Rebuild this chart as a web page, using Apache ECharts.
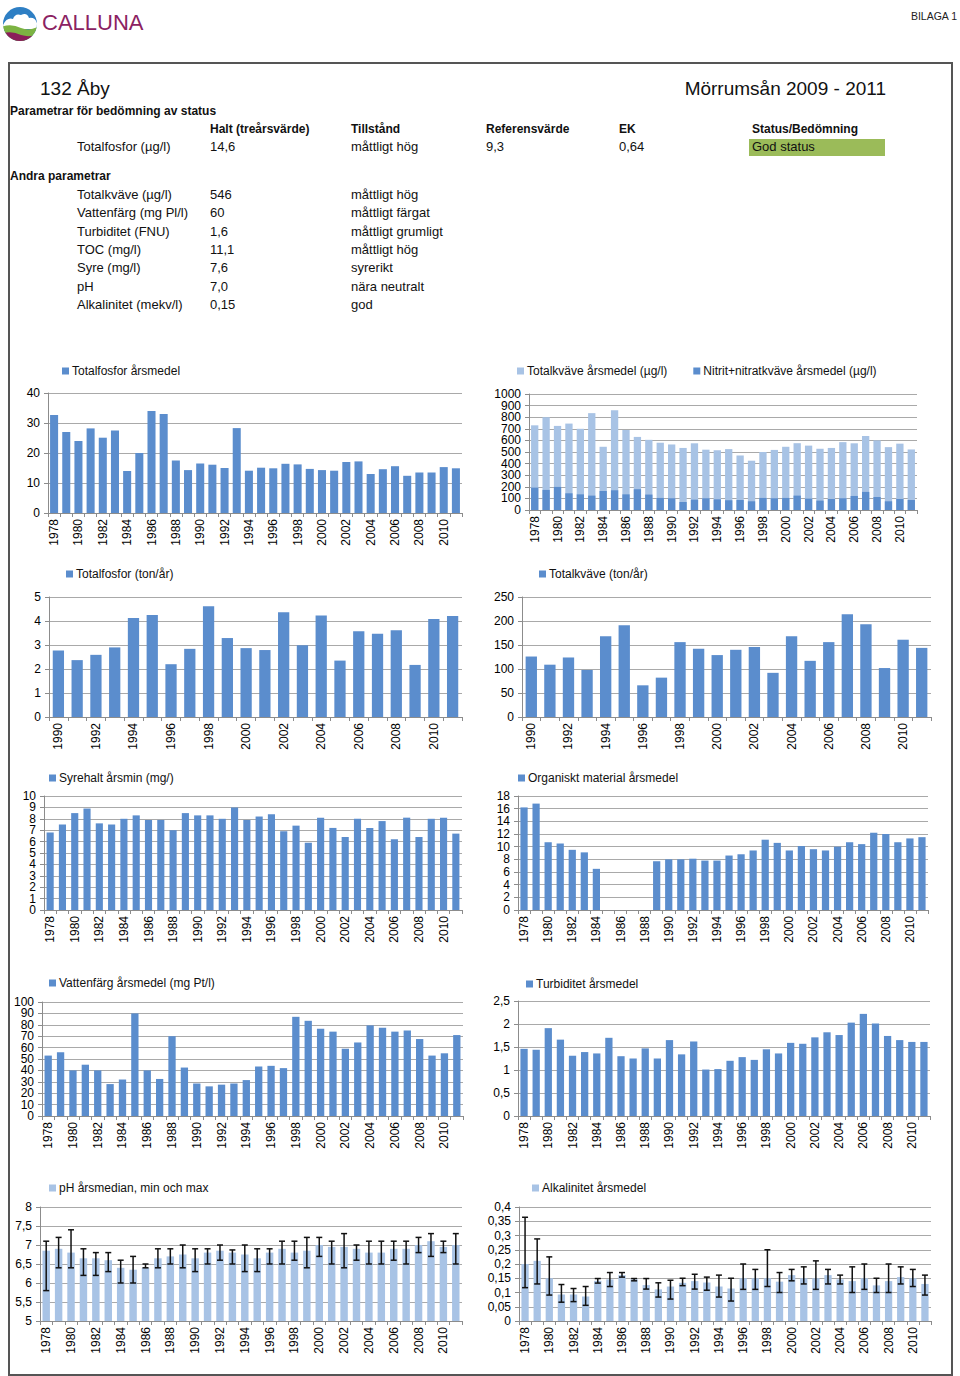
<!DOCTYPE html>
<html><head><meta charset="utf-8">
<script src="https://cdn.jsdelivr.net/npm/echarts@6/dist/echarts.min.js"></script>
<style>
body{margin:0;background:#fff;width:960px;height:1376px;position:relative;font-family:'Liberation Sans',Arial,sans-serif;color:#000;overflow:hidden}
.t{position:absolute;white-space:nowrap;font-size:13px;line-height:16px;color:#111}
.b{font-weight:bold;font-size:12px}
#frame{position:absolute;left:8px;top:62px;width:941px;height:1310px;border:2px solid #555}
#chart{position:absolute;left:0;top:0;width:960px;height:1376px}
</style></head><body>
<svg width="40" height="40" style="position:absolute;left:1px;top:3px" viewBox="0 0 40 40">
<defs><clipPath id="c"><circle cx="19" cy="21" r="17"/></clipPath></defs>
<g clip-path="url(#c)">
<rect x="0" y="0" width="40" height="40" fill="#2e7fc4"/>
<path d="M2 22 Q6 14 12 16 Q14 10 20 12 Q26 9 28 15 Q34 14 36 20 L36 26 L2 26Z" fill="#fff"/>
<path d="M0 24 Q10 20 20 25 Q30 29 40 22 L40 40 L0 40Z" fill="#7cb342"/>
<path d="M0 31 Q10 27 20 32 Q30 35 40 30 L40 40 L0 40Z" fill="#8b1d5a"/>
</g></svg>
<div class="t" style="left:42px;top:9px;font-size:22px;line-height:28px;color:#8b2262">CALLUNA</div>
<div class="t" style="right:3px;top:8px;font-size:10.5px;color:#222">BILAGA 1</div>
<div id="frame"></div>
<div id="hdr"></div>
<div id="chart"></div>
<script>
// ---------- table data ----------
const stationTitle = '132 Åby';
const areaTitle = 'Mörrumsån 2009 - 2011';
const statusHeading = 'Parametrar för bedömning av status';
const statusColumns = ['Halt (treårsvärde)', 'Tillstånd', 'Referensvärde', 'EK', 'Status/Bedömning'];
const statusRow = ['Totalfosfor (µg/l)', '14,6', 'måttligt hög', '9,3', '0,64', 'God status'];
const otherHeading = 'Andra parametrar';
const otherNames = ['Totalkväve (µg/l)', 'Vattenfärg (mg Pl/l)', 'Turbiditet (FNU)', 'TOC (mg/l)', 'Syre (mg/l)', 'pH', 'Alkalinitet (mekv/l)'];
const otherValues = ['546', '60', '1,6', '11,1', '7,6', '7,0', '0,15'];
const otherStates = ['måttligt hög', 'måttligt färgat', 'måttligt grumligt', 'måttligt hög', 'syrerikt', 'nära neutralt', 'god'];

// ---------- chart data ----------
const years78 = ['1978','1979','1980','1981','1982','1983','1984','1985','1986','1987','1988','1989','1990','1991','1992','1993','1994','1995','1996','1997','1998','1999','2000','2001','2002','2003','2004','2005','2006','2007','2008','2009','2010','2011'];
const years90 = ['1990','1991','1992','1993','1994','1995','1996','1997','1998','1999','2000','2001','2002','2003','2004','2005','2006','2007','2008','2009','2010','2011'];

const totPMean = [32.7,27.0,24.0,28.2,25.1,27.5,14.0,20.0,34.0,33.0,17.5,14.3,16.5,16.1,15.0,28.3,14.1,15.1,14.9,16.4,16.2,14.7,14.3,14.1,17.0,17.2,13.0,14.6,15.6,12.4,13.5,13.5,15.3,14.9];
const totNMean = [730,800,725,745,700,835,545,860,690,630,605,580,565,535,575,520,515,525,470,425,500,518,545,576,555,528,535,585,575,638,600,542,572,522];
const nitratMean = [193,173,199,144,135,124,164,170,135,179,133,104,101,69,89,101,92,84,86,75,104,101,104,124,98,81,95,101,121,156,112,75,95,86];
const totPLoad = [2.77,2.37,2.59,2.90,4.12,4.25,2.20,2.84,4.61,3.29,2.87,2.79,4.36,2.99,4.23,2.35,3.57,3.47,3.61,2.17,4.08,4.21];
const totNLoad = [126,109,124,98,168,191,66,82,156,142,129,140,146,92,168,117,156,214,193,102,161,144];
const oxygenMin = [6.8,7.5,8.5,8.9,7.6,7.5,8.0,8.3,7.9,7.9,7.0,8.5,8.3,8.3,8.0,9.0,7.9,8.2,8.4,6.9,7.4,5.9,8.1,7.2,6.4,8.0,7.2,7.8,6.2,8.1,6.4,8.0,8.1,6.7];
const organicMean = [16.2,16.8,10.7,10.5,9.5,9.1,6.5,null,null,null,null,7.7,8.0,8.0,8.1,7.8,7.8,8.6,8.8,9.4,11.1,10.6,9.4,10.1,9.6,9.4,10.0,10.7,10.4,12.2,12.0,10.7,11.3,11.5];
const colourMean = [53,56,40,45,40,28,32,90,40,32.5,70,42.5,28.5,26,27.5,28.5,31.5,43.5,44,42,87,83.5,76.5,74,59,64.5,79.5,77.5,74,75,67.5,53,55,71];
const turbMean = [1.46,1.44,1.91,1.66,1.31,1.39,1.36,1.70,1.30,1.25,1.47,1.25,1.65,1.34,1.62,1.01,1.02,1.20,1.28,1.22,1.45,1.36,1.59,1.57,1.71,1.82,1.76,2.03,2.22,2.01,1.74,1.65,1.61,1.61];
const phMedian = [6.85,6.9,6.8,6.65,6.65,6.6,6.4,6.35,6.4,6.65,6.7,6.75,6.65,6.8,6.85,6.8,6.75,6.65,6.8,6.9,6.8,6.85,7.0,6.95,6.95,6.9,6.8,6.8,6.9,6.9,7.0,7.1,6.95,7.0];
const phMin = [5.8,6.4,6.4,6.2,6.2,6.3,6.0,6.0,6.4,6.4,6.5,6.4,6.3,6.5,6.6,6.5,6.3,6.3,6.5,6.5,6.6,6.4,6.7,6.5,6.4,6.6,6.5,6.5,6.6,6.5,6.8,6.7,6.8,6.5];
const phMax = [7.1,7.2,7.4,6.9,6.8,6.8,6.6,6.7,6.5,6.9,6.9,7.0,6.9,6.9,7.0,6.87,7.0,6.9,6.9,7.1,7.1,7.2,7.2,7.1,7.3,7.0,7.1,7.1,7.1,7.1,7.2,7.3,7.1,7.3];
const alkMean = [0.200,0.211,0.150,0.093,0.093,0.086,0.141,0.146,0.161,0.146,0.126,0.111,0.121,0.134,0.140,0.135,0.121,0.114,0.150,0.150,0.150,0.138,0.161,0.150,0.150,0.161,0.146,0.140,0.150,0.125,0.140,0.154,0.150,0.130];
const alkMin = [0.117,0.130,0.091,0.066,0.068,0.055,0.133,0.121,0.154,0.141,0.112,0.084,0.077,0.124,0.112,0.108,0.084,0.070,0.111,0.111,0.121,0.100,0.141,0.130,0.111,0.130,0.130,0.100,0.111,0.100,0.100,0.130,0.121,0.091];
const alkMax = [0.364,0.288,0.225,0.128,0.114,0.121,0.149,0.170,0.170,0.149,0.149,0.134,0.143,0.150,0.164,0.154,0.161,0.150,0.200,0.181,0.250,0.170,0.181,0.190,0.211,0.181,0.161,0.190,0.200,0.150,0.200,0.190,0.181,0.161];

// ---------- header (HTML text) ----------
(function(){
  const h = document.getElementById('hdr');
  function put(txt, x, yc, cls, extra){
    const d = document.createElement('div');
    d.className = 't' + (cls ? ' ' + cls : '');
    d.textContent = txt;
    d.style.left = x + 'px';
    d.style.top = (yc - 8) + 'px';
    if (extra) Object.assign(d.style, extra);
    h.appendChild(d);
    return d;
  }
  put(stationTitle, 40, 88, '', {fontSize:'19px', lineHeight:'22px', top:'78px'});
  put(areaTitle, 0, 88, '', {fontSize:'19px', lineHeight:'22px', top:'78px', left:'auto', right:(960-886)+'px'});
  put(statusHeading, 10, 111, 'b');
  const colX = [210, 351, 486, 619, 752];
  statusColumns.forEach((c,i)=>put(c, colX[i], 129, 'b'));
  const g = document.createElement('div');
  Object.assign(g.style,{position:'absolute',left:'749px',top:'139px',width:'136px',height:'17px',background:'#9bbb59'});
  h.appendChild(g);
  put(statusRow[0], 77, 147);
  statusRow.slice(1).forEach((c,i)=>put(c, colX[i], 147));
  put(otherHeading, 10, 176, 'b');
  const rowY = [195, 213, 232, 250, 268, 287, 305];
  otherNames.forEach((n,i)=>{
    put(n, 77, rowY[i]);
    put(otherValues[i], 210, rowY[i]);
    put(otherStates[i], 351, rowY[i]);
  });
})();

// ---------- charts ----------
const BLUE = '#5b8dcd';
const LIGHT = '#a8c3e5';
const FONT = 'Liberation Sans, Arial, sans-serif';
const comma = v => String(+(+v).toFixed(2)).replace('.', ',');

const panels = [
  {grid:[48,393,414,120], legend:[62,370], cats:years78, y:[0,40,10], gap:'34%', series:[{name:'Totalfosfor årsmedel', data:totPMean, color:BLUE}]},
  {grid:[529,394,388,116], legend:[517,370], cats:years78, y:[0,1000,100], gap:'36%', overlap:true, series:[{name:'Totalkväve årsmedel (µg/l)', data:totNMean, color:LIGHT},{name:'Nitrit+nitratkväve årsmedel (µg/l)', data:nitratMean, color:BLUE}]},
  {grid:[49,597,413,120], legend:[66,573], cats:years90, y:[0,5,1], gap:'40%', series:[{name:'Totalfosfor (ton/år)', data:totPLoad, color:BLUE}]},
  {grid:[522,597,409,120], legend:[539,573], cats:years90, y:[0,250,50], gap:'39%', series:[{name:'Totalkväve (ton/år)', data:totNLoad, color:BLUE}]},
  {grid:[44,796,418,114], legend:[49,777], cats:years78, y:[0,10,1], gap:'42%', series:[{name:'Syrehalt årsmin (mg/)', data:oxygenMin, color:BLUE}]},
  {grid:[518,796,410,114], legend:[518,777], cats:years78, y:[0,18,2], gap:'40%', series:[{name:'Organiskt material årsmedel', data:organicMean, color:BLUE}]},
  {grid:[42,1002,421,114], legend:[49,982], cats:years78, y:[0,100,10], gap:'41%', series:[{name:'Vattenfärg årsmedel (mg Pt/l)', data:colourMean, color:BLUE}]},
  {grid:[518,1001,412,115], legend:[526,983], cats:years78, y:[0,2.5,0.5], gap:'40%', series:[{name:'Turbiditet årsmedel', data:turbMean, color:BLUE}]},
  {grid:[40,1207,422,114], legend:[49,1187], cats:years78, y:[5,8,0.5], gap:'40%', series:[{name:'pH årsmedian, min och max', data:phMedian, color:LIGHT}], err:[phMin, phMax]},
  {grid:[519,1207,412,114], legend:[532,1187], cats:years78, y:[0,0.4,0.05], gap:'40%', series:[{name:'Alkalinitet årsmedel', data:alkMean, color:LIGHT}], err:[alkMin, alkMax]}
];

const near = (a, b) => Math.abs(a - b) < 1e-6;
const grids = [], xAxes = [], yAxes = [], yAxesExtra = [], legends = [], series = [];
panels.forEach((p, i) => {
  const [mn, mx, step] = p.y;
  const isInner = v => near(v, mn + step) || near(v, mx - step);
  grids.push({left:p.grid[0], top:p.grid[1], width:p.grid[2], height:p.grid[3]});
  xAxes.push({type:'category', gridIndex:i, data:p.cats,
    axisLine:{show:true, lineStyle:{color:'#8c8c8c', width:1}},
    axisTick:{show:true, interval:0, length:4, lineStyle:{color:'#8c8c8c'}},
    axisLabel:{interval:1, rotate:90, margin:6, fontSize:12, color:'#000', fontFamily:FONT}
  });
  const labelBase = {fontSize:12, color:'#000', fontFamily:FONT, margin:8};
  // primary axis: all labels except the ones next to min / max
  yAxes.push({type:'value', gridIndex:i, min:mn, max:mx, interval:step, startValue:mn,
    axisLine:{show:true, lineStyle:{color:'#8c8c8c', width:1}},
    axisTick:{show:true, length:4, lineStyle:{color:'#8c8c8c'}},
    splitLine:{show:true, lineStyle:{color:'#a9a9a9', width:1}},
    axisLabel:Object.assign({}, labelBase, {showMinLabel:true, showMaxLabel:true,
      formatter: v => isInner(+v) ? '' : comma(v)})
  });
  // companion axis (same scale) carrying only the labels next to min / max
  yAxesExtra.push({type:'value', gridIndex:i, position:'left', min:mn, max:mx, interval:step,
    axisLine:{show:false}, axisTick:{show:false}, splitLine:{show:false},
    axisLabel:Object.assign({}, labelBase, {showMinLabel:false, showMaxLabel:false,
      formatter: v => isInner(+v) ? comma(v) : ''})
  });
  legends.push({left:p.legend[0], top:p.legend[1] - 5, padding:0, orient:'horizontal', itemWidth:7, itemHeight:7, itemGap:26,
    icon:'rect', data:p.series.map(s=>s.name), selectedMode:false,
    textStyle:{fontSize:12, color:'#111', fontFamily:FONT, padding:[0,0,0,-2]}});
  p.series.forEach(s => {
    series.push({type:'bar', name:s.name, xAxisIndex:i, yAxisIndex:i, data:s.data, clip:true,
      itemStyle:{color:s.color}, barCategoryGap:p.gap, barGap:p.overlap ? '-100%' : '20%', silent:true});
  });
  if (p.err) {
    const lo = p.err[0], hi = p.err[1];
    series.push({type:'custom', name:'err'+i, xAxisIndex:i, yAxisIndex:i, z:5, silent:true,
      data: lo.map((l, k) => [k, l, hi[k]]),
      encode:{x:0, y:[1,2]},
      renderItem: function(params, api){
        const xi = api.value(0);
        const a = api.coord([xi, api.value(1)]);
        const b = api.coord([xi, api.value(2)]);
        const w = 3;
        const st = {stroke:'#111', lineWidth:1.5};
        return {type:'group', children:[
          {type:'line', shape:{x1:a[0], y1:a[1], x2:b[0], y2:b[1]}, style:st},
          {type:'line', shape:{x1:a[0]-w, y1:a[1], x2:a[0]+w, y2:a[1]}, style:st},
          {type:'line', shape:{x1:b[0]-w, y1:b[1], x2:b[0]+w, y2:b[1]}, style:st}
        ]};
      }
    });
  }
});

const chart = echarts.init(document.getElementById('chart'), null, {renderer:'svg'});
chart.setOption({animation:false, backgroundColor:'transparent', grid:grids, xAxis:xAxes, yAxis:yAxes.concat(yAxesExtra), legend:legends, series:series});
</script>
</body></html>
